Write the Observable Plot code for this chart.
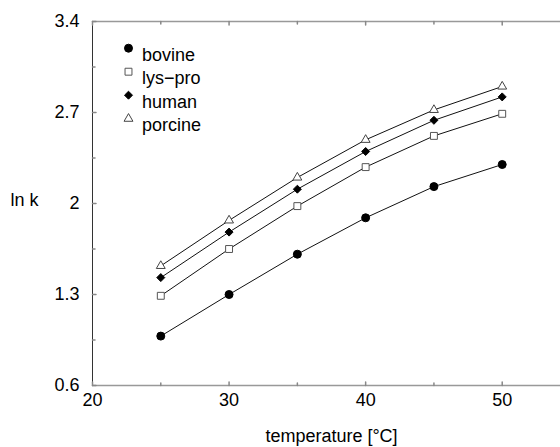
<!DOCTYPE html>
<html><head><meta charset="utf-8">
<script src="https://cdn.jsdelivr.net/npm/d3@7"></script>
<script src="https://cdn.jsdelivr.net/npm/@observablehq/plot@0.6"></script>
<style>
html,body{margin:0;padding:0;overflow:hidden;background:#fff;}
#chart{width:560px;height:447px;overflow:hidden;}
#chart svg{max-width:none !important;width:600px !important;height:447px !important;}
</style>
</head><body><div id="chart"></div>
<script>
const temperatures = [25, 30, 35, 40, 45, 50];
const bovine  = [0.98, 1.30, 1.61, 1.89, 2.13, 2.30];
const lysPro  = [1.29, 1.65, 1.98, 2.28, 2.52, 2.69];
const human   = [1.43, 1.78, 2.11, 2.40, 2.64, 2.82];
const porcine = [1.52, 1.87, 2.20, 2.49, 2.72, 2.90];
const seriesNames = ["bovine", "lys\u2212pro", "human", "porcine"];
const xMajorTicks = [20, 30, 40, 50];
const xMinorTicks = [25, 35, 45];
const yMajorTicks = [0.6, 1.3, 2, 2.7, 3.4];
const yMinorTicks = [0.95, 1.65, 2.35, 3.05];

const seriesValues = [bovine, lysPro, human, porcine];
const symbols = ["circle", "square", "diamond2", "triangle"];
const fills = ["black", "white", "black", "white"];
const strokes = ["black", "#555", "black", "#444"];
const radii = [4, 3.9, 3.6, 3.3];

const rows = seriesNames.flatMap((s, i) => temperatures.map((t, j) => ({series: s, idx: i, t, v: seriesValues[i][j]})));

const tickShape = {draw(context, l) { context.moveTo(0, 0); context.lineTo(0, -l); }};
const font = "Liberation Sans, Arial, Helvetica, sans-serif";

const marks = [
  Plot.ruleY([0.6, 3.4], {stroke: "#999", strokeWidth: 1.6}),
  Plot.ruleX([20], {stroke: "#333", strokeWidth: 1}),
  // inward ticks
  Plot.vector(xMajorTicks, {x: d => d, frameAnchor: "bottom", length: 3.5, rotate: 0, anchor: "start", shape: tickShape, stroke: "#888"}),
  Plot.vector(xMinorTicks, {x: d => d, frameAnchor: "bottom", length: 2.5, rotate: 0, anchor: "start", shape: tickShape, stroke: "#888"}),
  Plot.vector(xMajorTicks, {x: d => d, frameAnchor: "top", length: 3.5, rotate: 180, anchor: "start", shape: tickShape, stroke: "#888"}),
  Plot.vector(xMinorTicks, {x: d => d, frameAnchor: "top", length: 2.5, rotate: 180, anchor: "start", shape: tickShape, stroke: "#888"}),
  Plot.vector(yMajorTicks, {y: d => d, frameAnchor: "left", length: 3.5, rotate: 90, anchor: "start", shape: tickShape, stroke: "#888"}),
  Plot.vector(yMinorTicks, {y: d => d, frameAnchor: "left", length: 2.5, rotate: 90, anchor: "start", shape: tickShape, stroke: "#888"}),
  // axes labels
  Plot.axisX(xMajorTicks, {anchor: "bottom", tickSize: 0, tickPadding: 8, fontSize: 18, tickFormat: d => String(d), label: null, fill: "black"}),
  Plot.axisY(yMajorTicks, {anchor: "left", tickSize: 0, tickPadding: 13, fontSize: 18, tickFormat: d => String(d), label: null, fill: "black"}),
  Plot.text(["ln k"], {frameAnchor: "left", dx: -68, dy: -3, text: d => d, textAnchor: "middle", fontSize: 18, fill: "black"}),
  Plot.text(["temperature [\u00B0C]"], {frameAnchor: "bottom", dy: 56, text: d => d, lineAnchor: "bottom", textAnchor: "middle", fontSize: 18, fill: "black"}),
  // data lines
  Plot.line(rows, {x: "t", y: "v", z: "series", stroke: "#111", strokeWidth: 1}),
];

seriesNames.forEach((name, i) => {
  marks.push(Plot.dot(rows.filter(r => r.idx === i), {x: "t", y: "v", symbol: () => symbols[i], r: radii[i], fill: fills[i], stroke: strokes[i], strokeWidth: 1}));
  marks.push(Plot.dot([name], {frameAnchor: "top-left", dx: 36, dy: 26.7 + 23.5 * i, symbol: () => symbols[i], r: radii[i], fill: fills[i], stroke: strokes[i], strokeWidth: 1}));
  marks.push(Plot.text([name], {frameAnchor: "top-left", dx: 49.5, dy: 26.7 + 23.5 * i, text: d => d, textAnchor: "start", fontSize: 18, fill: "black"}));
});

const chart = Plot.plot({
  width: 600,
  height: 447,
  marginLeft: 92,
  marginRight: 30,
  marginTop: 21,
  marginBottom: 62,
  style: {fontFamily: font, background: "white", overflow: "visible", maxWidth: "none"},
  x: {domain: [20, 55]},
  y: {domain: [0.6, 3.4]},
  symbol: {type: "identity"},
  marks
});
document.getElementById("chart").appendChild(chart);
</script>
</body></html>
